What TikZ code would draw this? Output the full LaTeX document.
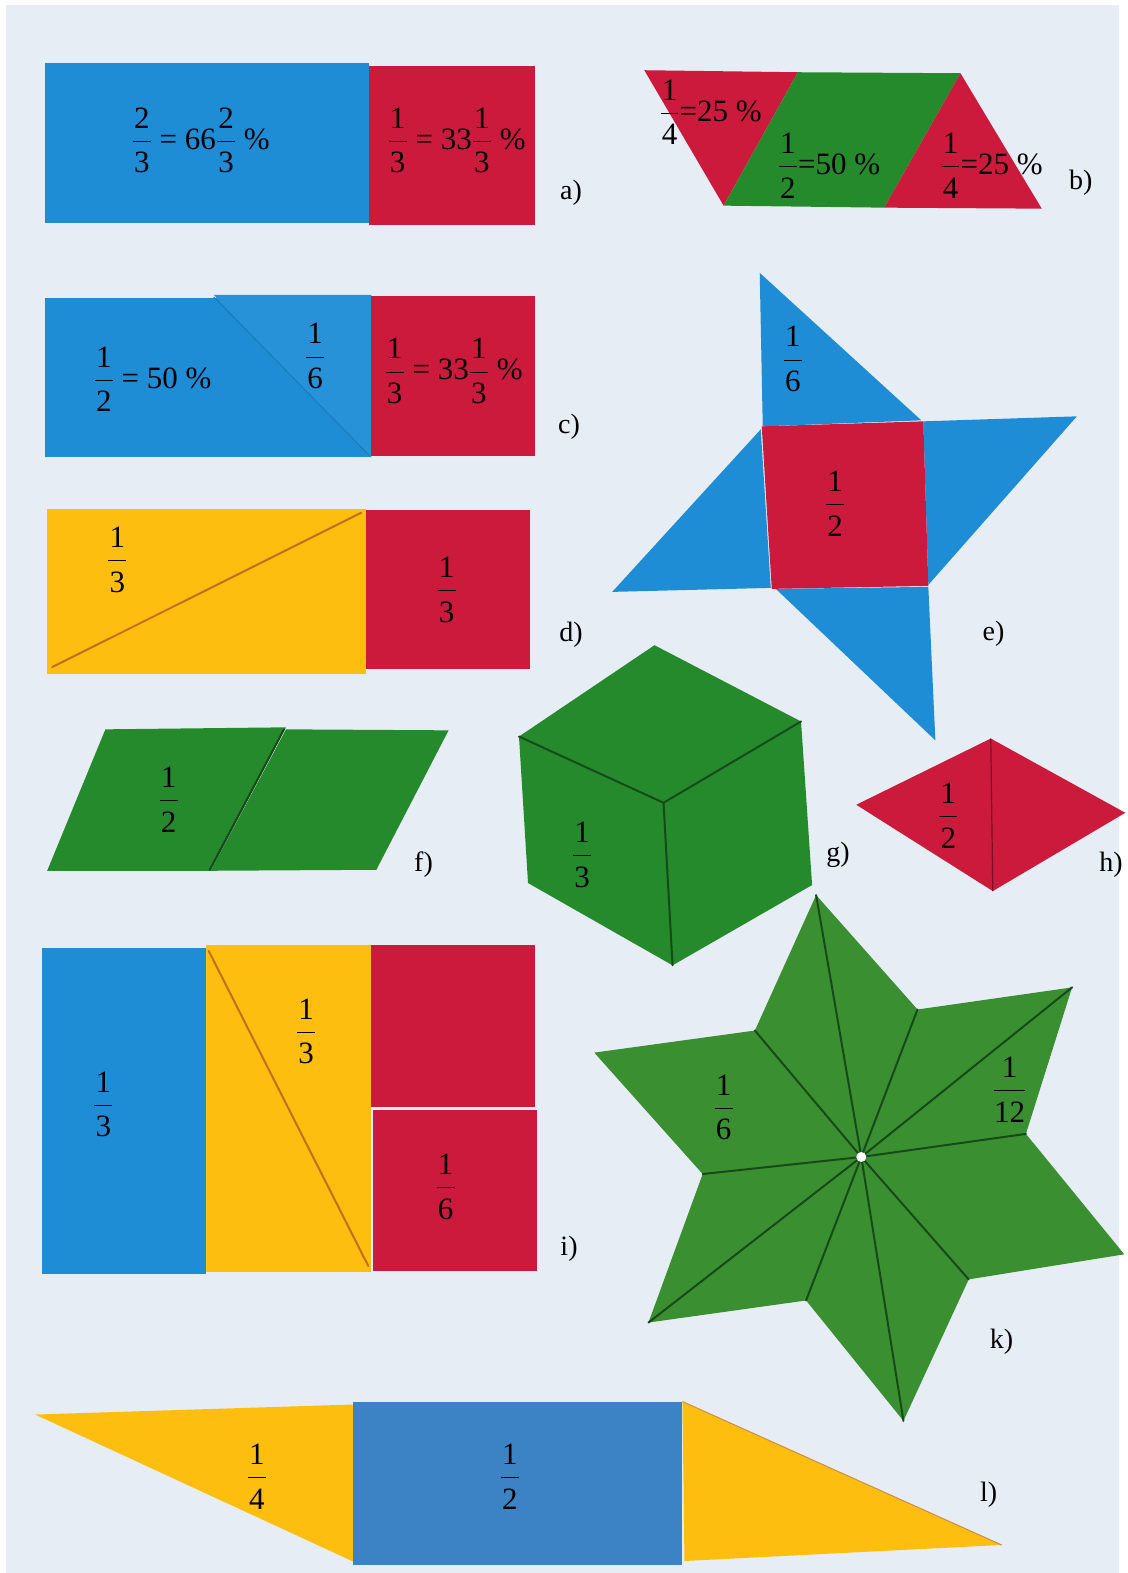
\RequirePackage{fix-cm}
\documentclass[tikz,border=0pt]{standalone}
\usepackage{amsmath}
\usepackage{fontspec}
\setmainfont{Liberation Serif}
\definecolor{bgc}{HTML}{E7EDF4}
\definecolor{pblue}{HTML}{1F8DD6}
\definecolor{pblue2}{HTML}{3B83C4}
\definecolor{pred}{HTML}{CB1A3C}
\definecolor{pgreen}{HTML}{258A2C}
\definecolor{pgreen2}{HTML}{3A8F30}
\definecolor{pyellow}{HTML}{FDBE10}
\definecolor{gline}{HTML}{174A1A}
\definecolor{yline}{HTML}{C0701A}
\newcommand{\fr}[2]{$\displaystyle\frac{\text{\kern1.2pt#1\kern1.2pt}\rule[-0.3em]{0pt}{0pt}}{\text{#2}\rule{0pt}{0.9em}}$}
\begin{document}
\begin{tikzpicture}[x=1pt,y=-1pt,
  lbl/.style={font=\fontsize{31}{35}\selectfont, inner sep=0pt, text=black},
  tag/.style={font=\fontsize{28}{32}\selectfont, inner sep=0pt, text=black},
  gedge/.style={draw=gline, line width=2pt, line cap=round},
  yedge/.style={draw=yline, line width=2pt, line cap=round}]
\useasboundingbox (0,0) rectangle (1127,1573);
\fill[white] (0,0) rectangle (1127,1573);
\fill[bgc] (6,5) rectangle (1119,1573);
\begin{scope}[xscale=1.0036,yscale=1.0032]
% ---------- a)
\fill[pblue] (45,63) rectangle (368,222);
\fill[pred] (368,66) rectangle (533,224);
\node[lbl] (a1) at (200,140) {\fr{2}{3} = 66\fr{2}{3} \%};
\node[lbl] (a2) at (455,140) {\fr{1}{3} = 33\fr{1}{3} \%};
\node[tag] (ta) at (569,192) {a)};
% ---------- b)
\fill[pred] (642,70) -- (795,72) -- (721,205) -- cycle;
\fill[pgreen] (795,72) -- (957,73) -- (881,207) -- (721,205) -- cycle;
\fill[pred] (957,73) -- (1038,208) -- (881,207) -- cycle;
\node[lbl] (b1) at (708,112) {\fr{1}{4}=25 \%};
\node[lbl] (b2) at (826,165) {\fr{1}{2}=50 \%};
\node[lbl] (b3) at (988,165) {\fr{1}{4}=25 \%};
\node[tag] (tb) at (1077,182) {b)};
% ---------- c)
\fill[pblue] (45,297) rectangle (370,456);
\fill[pblue!96!white] (213,294) -- (370,294) -- (370,456) -- cycle;
\draw[draw=pblue!85!black, line width=0.8pt] (213,296) -- (368,454);
\fill[pred] (370,295) rectangle (533,455);
\node[lbl] (c1) at (152,378) {\fr{1}{2} = 50 \%};
\node[lbl] (c2) at (314,355) {\fr{1}{6}};
\node[lbl] (c3) at (452,370) {\fr{1}{3} = 33\fr{1}{3} \%};
\node[tag] (tc) at (567,425) {c)};
% ---------- d)
\fill[pyellow] (47,507) rectangle (365,672);
\draw[yedge] (52,665) -- (360,511);
\fill[pred] (365,508) rectangle (528,667);
\node[lbl] (d1) at (117,558) {\fr{1}{3}};
\node[lbl] (d2) at (445,588) {\fr{1}{3}};
\node[tag] (td) at (569,633) {d)};
% ---------- e)
\fill[pblue] (757,272) -- (918,419) -- (760,425) -- cycle;
\fill[pblue] (920,420) -- (1073,415) -- (925,583) -- cycle;
\fill[pblue] (773,587) -- (925,585) -- (932,738) -- cycle;
\fill[pblue] (758,428) -- (768,586) -- (610,590) -- cycle;
\fill[pred] (759,425) -- (920,420) -- (925,584) -- (769,587) -- cycle;
\node[lbl] (e1) at (790,358) {\fr{1}{6}};
\node[lbl] (e2) at (832,502) {\fr{1}{2}};
\node[tag] (te) at (990,632) {e)};
% ---------- f)
\fill[pgreen] (105,727) -- (285,725) -- (210,868) -- (47,868) -- cycle;
\fill[pgreen] (285,727) -- (447,728) -- (375,867) -- (210,868) -- cycle;
\draw[gedge] (283,727) -- (209,867);
\node[lbl] (f1) at (168,797) {\fr{1}{2}};
\node[tag] (tf) at (422,862) {f)};
% ---------- g)
\coordinate (gT) at (652,643);
\coordinate (gUR) at (798,719);
\coordinate (gLR) at (809,882);
\coordinate (gB) at (670,962);
\coordinate (gLL) at (526,880);
\coordinate (gUL) at (517,734);
\coordinate (gC) at (661,800);
\fill[pgreen] (gT) -- (gUR) -- (gLR) -- (gB) -- (gLL) -- (gUL) -- cycle;
\draw[gedge] (gUL) -- (gC) -- (gUR);
\draw[gedge] (gC) -- (gB);
\node[lbl] (g1) at (580,852) {\fr{1}{3}};
\node[tag] (tg) at (835,852) {g)};
% ---------- h)
\coordinate (hL) at (853,802);
\coordinate (hT) at (987,736);
\coordinate (hR) at (1121,810);
\coordinate (hB) at (989,888);
\fill[pred] (hL) -- (hT) -- (hR) -- (hB) -- cycle;
\draw[draw=pred!60!black, line width=1.2pt] (hT) -- (hB);
\node[lbl] (h1) at (945,813) {\fr{1}{2}};
\node[tag] (th) at (1107,862) {h)};
% ---------- i)
\fill[pblue] (42,945) rectangle (205,1270);
\fill[pyellow] (205,942) rectangle (370,1268);
\draw[yedge] (208,948) -- (367,1262);
\fill[pred] (370,942) rectangle (533,1103);
\fill[pred] (372,1106) rectangle (535,1267);
\node[lbl] (i1) at (103,1101) {\fr{1}{3}};
\node[lbl] (i2) at (305,1028) {\fr{1}{3}};
\node[lbl] (i3) at (444,1183) {\fr{1}{6}};
\node[tag] (ti) at (567,1245) {i)};
% ---------- k)
\coordinate (kC) at (858,1153);
\coordinate (k1) at (813,892);
\coordinate (k2) at (914,1006);
\coordinate (k3) at (1068,984);
\coordinate (k4) at (1022,1130);
\coordinate (k5) at (1120,1250);
\coordinate (k6) at (965,1275);
\coordinate (k7) at (900,1416);
\coordinate (k8) at (803,1296);
\coordinate (k9) at (646,1318);
\coordinate (k10) at (700,1170);
\coordinate (k11) at (592,1049);
\coordinate (k12) at (752,1027);
\fill[pgreen2] (k1) -- (k2) -- (k3) -- (k4) -- (k5) -- (k6) -- (k7) -- (k8) -- (k9) -- (k10) -- (k11) -- (k12) -- cycle;
\foreach \v in {k1,k2,k3,k4,k6,k7,k8,k9,k10,k12}
  \draw[gedge] (kC) -- (\v);
\fill[white] (kC) circle (5);
\node[lbl] (k1l) at (721,1104) {\fr{1}{6}};
\node[lbl] (k2l) at (1006,1086) {\fr{1}{12}};
\node[tag] (tk) at (998,1337) {k)};
% ---------- l)
\fill[pyellow] (35,1410) -- (352,1400) -- (355,1558) -- cycle;
\fill[pblue2] (352,1398) rectangle (680,1560);
\fill[pyellow] (680,1397) -- (998,1540) -- (682,1556) -- cycle;
\draw[draw=yline!80, line width=1pt] (680,1397) -- (998,1540);
\node[lbl] (l1) at (256,1472) {\fr{1}{4}};
\node[lbl] (l2) at (508,1472) {\fr{1}{2}};
\node[tag] (tl) at (985,1490) {l)};
\end{scope}
\end{tikzpicture}
\end{document}
